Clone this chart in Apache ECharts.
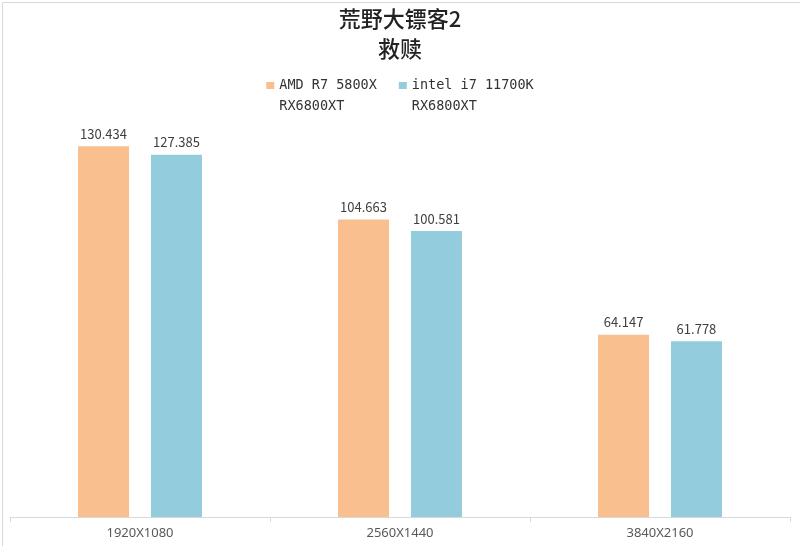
<!DOCTYPE html>
<html><head><meta charset="utf-8">
<script src="https://cdn.jsdelivr.net/npm/echarts@6/dist/echarts.min.js"></script>
<style>html,body{margin:0;padding:0;background:#fff}#c{width:800px;height:546px}</style>
</head><body><div id="c"></div>
<script>
var categories = ['1920X1080', '2560X1440', '3840X2160'];
var seriesNames = ['AMD R7 5800X\nRX6800XT', 'intel i7 11700K\nRX6800XT'];
var amdValues = [130.434, 104.663, 64.147];
var intelValues = [127.385, 100.581, 61.778];
var colors = ['#F9BF8F', '#93CDDD'];

var chart = echarts.init(document.getElementById('c'));
var labelStyle = {show: true, position: 'top', distance: 6, color: '#404040', fontSize: 13, fontFamily: 'Noto Sans CJK SC'};
chart.setOption({
  animation: false,
  color: colors,
  title: {
    text: '荒野大镖客2\n救赎', left: 'center', top: -1,
    textStyle: {fontSize: 22, fontWeight: 500, color: '#222', fontFamily: 'Noto Sans CJK SC', lineHeight: 30}
  },
  legend: {
    top: 70, left: 'center', itemWidth: 8, itemHeight: 28, itemGap: 22,
    icon: 'path://M0,0h8v7h-8zM0,28L8,28',
    textStyle: {fontSize: 13.5, color: '#333', fontFamily: 'DejaVu Sans Mono', lineHeight: 21}
  },
  graphic: [{type: 'rect', left: 0, top: 0, shape: {width: 799, height: 545}, style: {fill: 'none', stroke: '#d9d9d9', lineWidth: 1}, silent: true}],
  grid: {left: 10, right: 10, top: 119, bottom: 29},
  xAxis: {
    type: 'category', data: categories,
    axisLine: {lineStyle: {color: '#d9d9d9'}},
    axisTick: {show: true, length: 5, lineStyle: {color: '#d9d9d9'}},
    axisLabel: {color: '#595959', fontSize: 13, fontFamily: 'Noto Sans', margin: 10}
  },
  yAxis: {type: 'value', min: 0, max: 140, show: false, splitLine: {show: false}},
  series: [
    {name: seriesNames[0], type: 'bar', data: amdValues, barWidth: 51, barGap: '43%', label: labelStyle},
    {name: seriesNames[1], type: 'bar', data: intelValues, barWidth: 51, barGap: '43%', label: labelStyle}
  ]
});
</script></body></html>
